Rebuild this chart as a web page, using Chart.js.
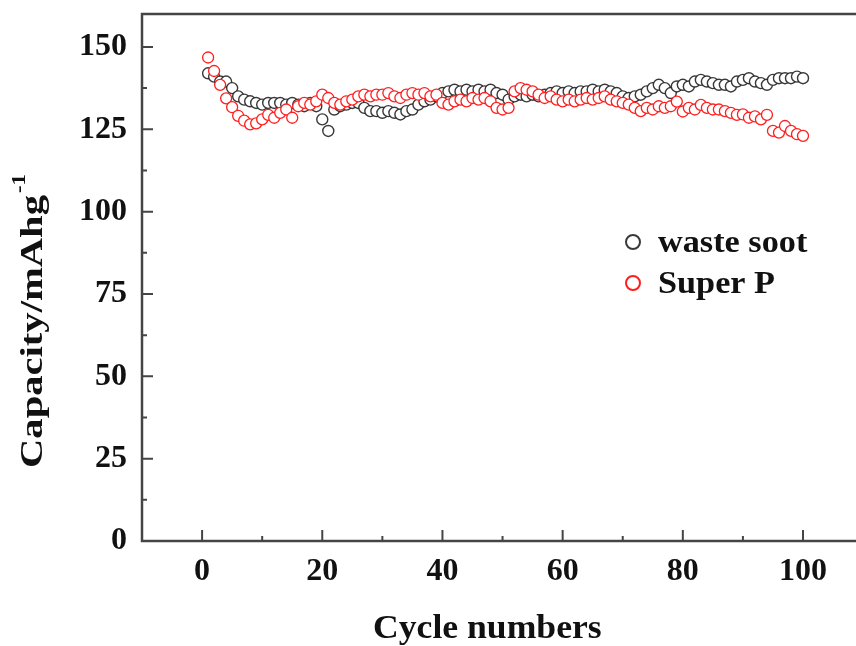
<!DOCTYPE html>
<html>
<head>
<meta charset="utf-8">
<script src="https://cdn.jsdelivr.net/npm/chart.js@4.4.0/dist/chart.umd.min.js"></script>
<style>
  html, body { margin: 0; padding: 0; background: #fff; overflow: hidden; }
  #wrap { width: 870px; height: 646px; }
</style>
</head>
<body>
<div id="wrap"><canvas id="chart" width="870" height="646"></canvas></div>
<script>
'use strict';

// ── Data ───────────────────────────────────────────────────────────────────
const cycles = [
  1, 2, 3, 4, 5, 6, 7, 8, 9, 10, 11, 12, 13, 14, 15, 16, 17, 18, 19, 20,
  21, 22, 23, 24, 25, 26, 27, 28, 29, 30, 31, 32, 33, 34, 35, 36, 37, 38, 39, 40,
  41, 42, 43, 44, 45, 46, 47, 48, 49, 50, 51, 52, 53, 54, 55, 56, 57, 58, 59, 60,
  61, 62, 63, 64, 65, 66, 67, 68, 69, 70, 71, 72, 73, 74, 75, 76, 77, 78, 79, 80,
  81, 82, 83, 84, 85, 86, 87, 88, 89, 90, 91, 92, 93, 94, 95, 96, 97, 98, 99, 100
];

const wasteSoot = [
  142, 141, 139.5, 139.5, 137.5, 135, 134, 133.5, 133, 132.5,
  133, 133, 133, 132.5, 133, 132.5, 132, 133, 132, 128,
  124.5, 131, 132, 132.5, 133, 133, 131.5, 130.5, 130.5, 130,
  130.5, 130, 129.5, 130.5, 131, 132.5, 133.5, 134, 135, 136,
  136.5, 137, 136.5, 137, 136.5, 137, 136.5, 137, 136, 135.5,
  134, 135, 135.5, 135, 135.5, 135, 135.5, 136, 136.5, 136,
  136.5, 136, 136.5, 136.5, 137, 136.5, 137, 136.5, 136, 135,
  134.5, 135, 135.5, 136.5, 137.5, 138.5, 137.5, 136, 138, 138.5,
  138, 139.5, 140, 139.5, 139, 138.5, 138.5, 138, 139.5, 140,
  140.5, 139.5, 139, 138.5, 140, 140.5, 140.5, 140.5, 141, 140.5
];

const superP = [
  146.8, 142.7, 138.5, 134.4, 131.7, 129.1, 127.6, 126.5, 126.8, 128,
  129.4, 128.5, 130, 131, 128.5, 132, 133, 132.5, 133.5, 135.5,
  134.5, 133, 132.5, 133.5, 134, 135, 135.5, 135, 135.5, 135.5,
  136, 135, 134.5, 135.5, 136, 135.5, 136, 135, 135.5, 133,
  132.5, 133.5, 134, 133.5, 134.5, 134, 134.5, 133.5, 131.5, 131,
  131.5, 136.5, 137.5, 137, 136.5, 135.5, 134.5, 135, 134, 133.5,
  134, 133.5, 134, 134.5, 134, 134.5, 135, 134, 133.5, 133,
  132.5, 131.5, 130.5, 131.5, 131, 132, 131.5, 132, 133.4, 130.4,
  131.5, 131, 132.4, 131.5, 131, 131, 130.5, 130, 129.4, 129.5,
  128.5, 128.9, 128, 129.4, 124.5, 124, 126, 124.5, 123.5, 123
];

const xTicks      = [0, 20, 40, 60, 80, 100];
const xMinorTicks = [10, 30, 50, 70, 90];
const yTicks      = [0, 25, 50, 75, 100, 125, 150];
const yMinorTicks = [12.5, 37.5, 62.5, 87.5, 112.5, 137.5];

// ── Style ──────────────────────────────────────────────────────────────────
const FONT_FAMILY  = '"Liberation Serif", "Times New Roman", serif';
const TEXT_COLOR   = '#111';
const AXIS_COLOR   = '#454545';
const SOOT_COLOR   = 'rgba(35,35,35,0.9)';
const SUPERP_COLOR = 'rgb(255,30,30)';

function pairs(ys) { return cycles.map((c, i) => ({ x: c, y: ys[i] })); }

// text drawn a bit wider than the font, as in the original figure
function stretchedText(ctx, text, x, y, sx) {
  ctx.save();
  ctx.translate(x, y);
  ctx.scale(sx, 1);
  ctx.fillText(text, 0, 0);
  ctx.restore();
  return ctx.measureText(text).width * sx;
}

// ── Frame, inward ticks, titles and legend ────────────────────────────────
const decorPlugin = {
  id: 'decor',
  afterDatasetsDraw(chart) {
    const { ctx, chartArea: a, scales: { x, y } } = chart;
    ctx.save();
    ctx.strokeStyle = AXIS_COLOR;
    ctx.lineWidth = 2.5;
    ctx.strokeRect(a.left, a.top, a.right - a.left, a.bottom - a.top);

    ctx.lineWidth = 2;
    ctx.beginPath();
    xTicks.forEach(v => {
      const px = x.getPixelForValue(v);
      ctx.moveTo(px, a.bottom); ctx.lineTo(px, a.bottom - 11);
    });
    xMinorTicks.forEach(v => {
      const px = x.getPixelForValue(v);
      ctx.moveTo(px, a.bottom); ctx.lineTo(px, a.bottom - 5);
    });
    yTicks.forEach(v => {
      const py = y.getPixelForValue(v);
      ctx.moveTo(a.left, py); ctx.lineTo(a.left + 11, py);
    });
    yMinorTicks.forEach(v => {
      const py = y.getPixelForValue(v);
      ctx.moveTo(a.left, py); ctx.lineTo(a.left + 5, py);
    });
    ctx.stroke();
    ctx.restore();
  },
  afterDraw(chart) {
    const { ctx } = chart;
    ctx.save();
    ctx.fillStyle = TEXT_COLOR;
    ctx.textAlign = 'left';
    ctx.textBaseline = 'alphabetic';

    // x title
    ctx.font = `bold 33px ${FONT_FAMILY}`;
    stretchedText(ctx, 'Cycle numbers', 373, 638, 1.08);

    // y title with superscript
    ctx.save();
    ctx.translate(42, 468);
    ctx.rotate(-Math.PI / 2);
    ctx.font = `bold 31px ${FONT_FAMILY}`;
    const w = stretchedText(ctx, 'Capacity/mAhg', 0, 0, 1.31);
    ctx.font = `bold 19px ${FONT_FAMILY}`;
    stretchedText(ctx, '-1', w + 2, -17, 1.2);
    ctx.restore();

    // legend
    const items = [
      { label: 'waste soot', color: SOOT_COLOR,   y: 242 },
      { label: 'Super P',    color: SUPERP_COLOR, y: 283 }
    ];
    ctx.font = `bold 32px ${FONT_FAMILY}`;
    items.forEach(it => {
      ctx.beginPath();
      ctx.arc(633, it.y, 7, 0, Math.PI * 2);
      ctx.fillStyle = '#fff';
      ctx.fill();
      ctx.lineWidth = 2;
      ctx.strokeStyle = it.color;
      ctx.stroke();
      ctx.fillStyle = TEXT_COLOR;
      stretchedText(ctx, it.label, 658, it.y + 10, 1.07);
    });
    ctx.restore();
  }
};

// ── Chart ──────────────────────────────────────────────────────────────────
const tickFont = { family: FONT_FAMILY, size: 32, weight: 'bold' };

new Chart(document.getElementById('chart').getContext('2d'), {
  type: 'scatter',
  data: {
    datasets: [
      {
        label: 'waste soot',
        data: pairs(wasteSoot),
        order: 2,
        pointStyle: 'circle',
        pointRadius: 5.5,
        pointBorderWidth: 1.4,
        pointBorderColor: SOOT_COLOR,
        pointBackgroundColor: '#fff'
      },
      {
        label: 'Super P',
        data: pairs(superP),
        order: 1,
        pointStyle: 'circle',
        pointRadius: 5.5,
        pointBorderWidth: 1.3,
        pointBorderColor: SUPERP_COLOR,
        pointBackgroundColor: '#fff'
      }
    ]
  },
  options: {
    responsive: false,
    animation: false,
    layout: { padding: { top: 14, right: 6, left: 0, bottom: 0 } },
    plugins: { legend: { display: false }, tooltip: { enabled: false } },
    scales: {
      x: {
        type: 'linear',
        min: -10, max: 110,
        grid: { display: false, drawTicks: false },
        border: { display: false },
        ticks: { font: tickFont, color: TEXT_COLOR, padding: 12, maxRotation: 0 },
        afterBuildTicks: s => { s.ticks = xTicks.map(v => ({ value: v })); },
        afterFit: s => { s.height = 105; s.paddingLeft = 0; s.paddingRight = 0; }
      },
      y: {
        type: 'linear',
        min: 0, max: 160,
        grid: { display: false, drawTicks: false },
        border: { display: false },
        ticks: { font: tickFont, color: TEXT_COLOR, padding: 15 },
        afterBuildTicks: s => { s.ticks = yTicks.map(v => ({ value: v })); },
        afterFit: s => { s.width = 142; s.paddingTop = 0; s.paddingBottom = 0; }
      }
    }
  },
  plugins: [decorPlugin]
});
</script>
</body>
</html>
